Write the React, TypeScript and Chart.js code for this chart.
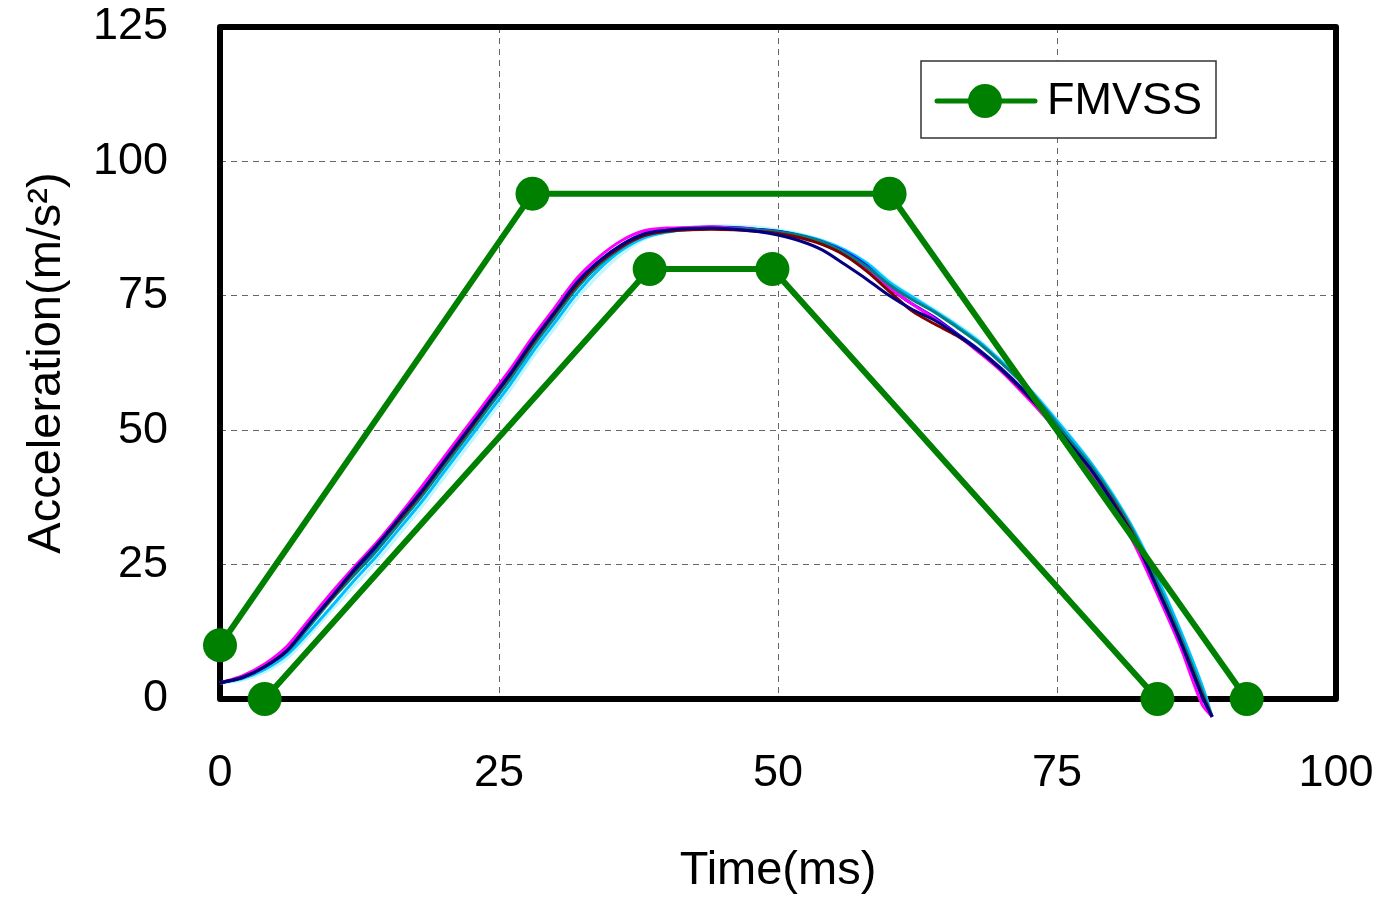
import React, { useEffect, useRef } from "react";
import { Chart, registerables } from "chart.js";

Chart.register(...registerables);

const W = 1380;
const H = 899;
const FONT = "'Liberation Sans', Arial, Helvetica, sans-serif";

// FMVSS corridor (ms, m/s^2)
const upperT = [0, 28, 60, 92];
const upperA = [10, 94, 94, 0];
const lowerT = [4, 38.5, 49.5, 84];
const lowerA = [0, 80, 80, 0];

// measured sled pulses (ms)
const times = [0, 2, 4, 6, 8, 10, 12, 14, 16, 18, 20, 22, 24, 26, 28, 30, 32, 34, 36, 38, 40, 42, 44, 46, 48, 50, 52, 54, 56, 58, 60, 62, 64, 66, 68, 70, 72, 74, 76, 78, 80, 82, 84, 86, 88, 88.9];

const testBlue = [3, 4, 6, 9, 14, 19, 23.5, 28, 33, 38, 43.5, 49, 54.5, 60, 66, 71.5, 77.5, 81.5, 84.5, 86.5, 87.3, 87.6, 87.8, 87.7, 87.4, 87, 86.2, 85, 83.2, 80.5, 76.5, 73.5, 71, 68, 65, 61.5, 57.5, 53, 48, 43, 37, 30, 20, 11, 0.5, -3.3];
const testMagenta = [3, 4.3, 6.5, 9.8, 14.8, 19.8, 24.5, 29, 34, 39.3, 44.8, 50.3, 55.8, 61.3, 67.3, 72.8, 78.3, 82.3, 85.3, 87.1, 87.6, 87.7, 87.8, 87.6, 87.3, 86.8, 86, 84.6, 82.8, 80, 76.5, 73.5, 70.8, 67.8, 64.5, 61, 56.8, 52.3, 47.2, 42, 35.8, 28.5, 19.5, 10, -1, -3.3];
const testNavy = [3, 4, 6, 9, 14, 19, 24, 28.5, 33.5, 38.5, 44, 49.5, 55, 60.5, 66.5, 72, 77.5, 81.5, 84.5, 86.5, 87.2, 87.5, 87.6, 87.4, 87, 86.3, 85.2, 83.5, 80.8, 78, 75, 72.5, 70.5, 67.8, 64.8, 61.3, 57.3, 52.8, 47.8, 42.8, 36.5, 29.5, 20.5, 11, 0.5, -3.3];
const testRed = [3, 4, 6, 9, 14, 18.8, 23.8, 28.5, 33.2, 38.2, 43.8, 49.2, 54.8, 60.3, 66.2, 71.8, 77, 81.2, 84.2, 86.2, 87, 87.3, 87.4, 87.3, 87, 86.6, 85.8, 84.5, 82.5, 79.5, 75.8, 72.2, 69.8, 67.6, 64.8, 61.3, 57.2, 52.8, 47.8, 42.8, 36.8, 29.8, 20.5, 11.2, 0.8, -3.3];
const testTeal = [3, 4, 6, 8.8, 13.5, 18.5, 23, 27.5, 32.5, 37.5, 43, 48.5, 54, 59.5, 65.5, 71, 76.5, 80.8, 84, 86.2, 87, 87.3, 87.5, 87.5, 87.3, 86.9, 86.2, 85, 83, 80.3, 77, 74.3, 72, 69.2, 66.2, 62.5, 58.5, 53.8, 48.5, 43.5, 37.5, 30.5, 21.5, 12, 1.5, -3.3];
const testCyan = [3, 3.8, 5.5, 8.2, 12.5, 17.2, 22, 26.5, 31.5, 36.5, 42, 47.5, 53, 58.5, 64.5, 70, 75.5, 80, 83.5, 85.8, 86.8, 87.4, 87.6, 87.6, 87.4, 87, 86.3, 85.2, 83.5, 81, 77.5, 74.8, 72.2, 69.5, 66.5, 62.8, 58.8, 54.2, 49.2, 44, 38, 31, 22.5, 13, 2.5, -3.3];
const testLightCyan = [3, 3.5, 5, 7.5, 11.8, 16.5, 21, 25.5, 30.5, 35.5, 41, 46.5, 52, 57.5, 63.5, 69, 74.5, 79, 82.8, 85.5, 87, 87.8, 88, 88, 87.8, 87.3, 86.5, 85.3, 83.6, 81.2, 77.8, 75, 72.5, 69.8, 66.8, 63, 59, 54.5, 49.5, 44.2, 38.2, 31.2, 22.8, 13.2, 2.5, -3.3];

const testSeries: [string, number[]][] = [
  ["#000080", testNavy],
  ["#800000", testRed],
  ["#008080", testTeal],
  ["#FF00FF", testMagenta],
  ["#0000FF", testBlue],
  ["#00BFFF", testCyan],
  ["#BFF5FF", testLightCyan],
];

const GREEN = "#008000";

const framePlugin = {
  id: "frame",
  beforeDatasetsDraw(chart: any) {
    const { ctx, chartArea: a } = chart;
    ctx.save();
    ctx.strokeStyle = "#000";
    ctx.lineWidth = 6;
    ctx.lineJoin = "round";
    ctx.strokeRect(a.left, a.top, a.right - a.left, a.bottom - a.top);
    ctx.restore();
  },
  afterDraw(chart: any) {
    const { ctx, chartArea: a } = chart;
    const x0 = a.right - 415;
    const y0 = a.top + 34;
    const w = 295;
    const h = 77;
    ctx.save();
    ctx.fillStyle = "#fff";
    ctx.fillRect(x0, y0, w, h);
    ctx.strokeStyle = "#333";
    ctx.lineWidth = 1.5;
    ctx.strokeRect(x0, y0, w, h);
    const cy = y0 + 40;
    ctx.strokeStyle = GREEN;
    ctx.lineWidth = 5;
    ctx.lineCap = "round";
    ctx.beginPath();
    ctx.moveTo(x0 + 16, cy);
    ctx.lineTo(x0 + 114, cy);
    ctx.stroke();
    ctx.fillStyle = GREEN;
    ctx.beginPath();
    ctx.arc(x0 + 64, cy, 17, 0, Math.PI * 2);
    ctx.fill();
    ctx.fillStyle = "#000";
    ctx.font = `45px ${FONT}`;
    ctx.textBaseline = "middle";
    ctx.textAlign = "left";
    ctx.fillText(chart.data.datasets[0].label, x0 + 126, cy + 1);
    ctx.restore();
  },
};

function zeroPadding(scale: any) {
  scale.paddingTop = 0;
  scale.paddingBottom = 0;
  scale.paddingLeft = 0;
  scale.paddingRight = 0;
}

export default function App() {
  const ref = useRef<HTMLCanvasElement | null>(null);

  useEffect(() => {
    if (!ref.current) return;
    const fmvssStyle = {
      borderColor: GREEN,
      backgroundColor: GREEN,
      borderWidth: 6,
      pointRadius: 17,
      pointBorderWidth: 0,
      pointBackgroundColor: GREEN,
      pointBorderColor: GREEN,
      tension: 0,
      clip: false as any,
    };
    const datasets: any[] = [
      {
        label: "FMVSS",
        data: upperT.map((t, i) => ({ x: t, y: upperA[i] })),
        ...fmvssStyle,
      },
      {
        label: "FMVSS lower",
        data: lowerT.map((t, i) => ({ x: t, y: lowerA[i] })),
        ...fmvssStyle,
      },
      ...testSeries.map(([color, vals], k) => ({
        label: `Test ${k + 1}`,
        data: times.map((t, i) => ({ x: t, y: vals[i] })),
        borderColor: color,
        backgroundColor: color,
        borderWidth: 3,
        pointRadius: 0,
        tension: 0.3,
        clip: { left: 4, right: 4, top: 4, bottom: 22 },
      })),
    ];

    const chart = new Chart(ref.current, {
      type: "line",
      data: { datasets },
      plugins: [framePlugin],
      options: {
        responsive: false,
        animation: false,
        devicePixelRatio: 1,
        layout: { padding: { top: 27, right: 44, left: 0, bottom: 0 } },
        plugins: {
          legend: { display: false },
          tooltip: { enabled: false },
        },
        scales: {
          x: {
            type: "linear",
            min: 0,
            max: 100,
            ticks: {
              stepSize: 25,
              color: "#000",
              padding: 48,
              font: { family: FONT, size: 45 },
            },
            grid: { color: "#666", lineWidth: 1, drawTicks: false },
            border: { display: false, dash: [6, 5] },
            title: {
              display: true,
              text: "Time(ms)",
              color: "#000",
              font: { family: FONT, size: 47 },
              padding: { top: 0, bottom: 0 },
            },
            afterFit(scale: any) {
              scale.height = 200;
              zeroPadding(scale);
            },
          },
          y: {
            type: "linear",
            min: 0,
            max: 125,
            ticks: {
              stepSize: 25,
              color: "#000",
              padding: 52,
              font: { family: FONT, size: 45 },
            },
            grid: { color: "#666", lineWidth: 1, drawTicks: false },
            border: { display: false, dash: [6, 5] },
            title: {
              display: true,
              text: "Acceleration(m/s²)",
              color: "#000",
              font: { family: FONT, size: 47 },
              padding: { top: 19, bottom: 0 },
            },
            afterFit(scale: any) {
              scale.width = 220;
              zeroPadding(scale);
            },
          },
        },
      },
    });
    return () => chart.destroy();
  }, []);

  return (
    <div style={{ position: "absolute", left: 0, top: 0, width: W, height: H, background: "#fff" }}>
      <canvas ref={ref} width={W} height={H} style={{ display: "block", width: W, height: H }} />
    </div>
  );
}
